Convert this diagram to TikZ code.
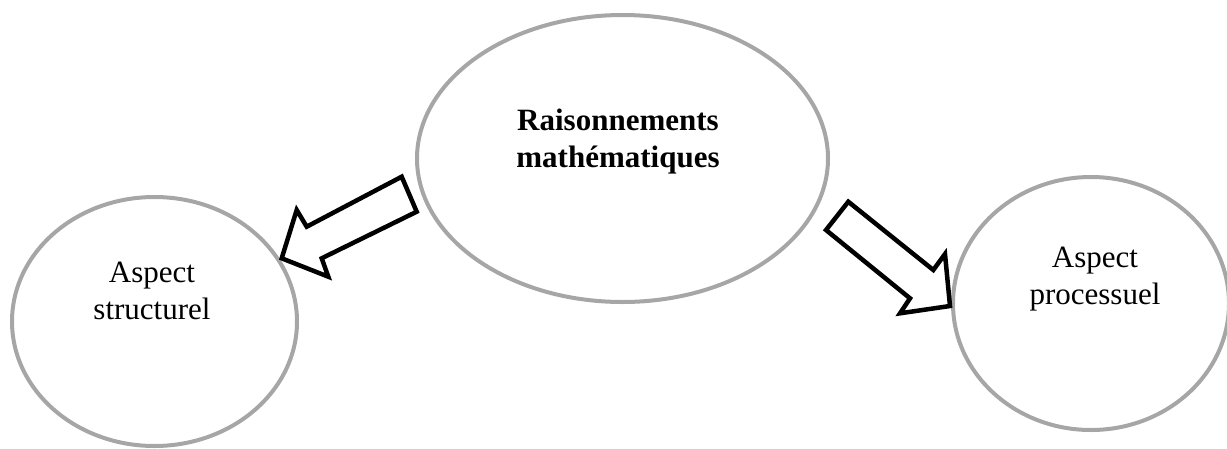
\documentclass[tikz,border=0pt]{standalone}
\usepackage{fontspec}
\setmainfont{Liberation Serif}
\usetikzlibrary{shapes.geometric}
\definecolor{rimgray}{RGB}{166,166,166}
\tikzset{
  bubble/.style={ellipse, draw=rimgray, line width=4pt, inner sep=0pt},
  label31/.style={align=center, inner sep=0pt, font=\fontsize{31}{37}\selectfont},
  blockarrow/.style={draw=black, fill=white, line width=4.5pt, line join=miter, miter limit=10}
}
\begin{document}
\begin{tikzpicture}[x=1pt,y=-1pt]
\useasboundingbox (0,0) rectangle (1227,448);
% ellipses
\node[bubble, minimum width=411pt, minimum height=287pt] (centre) at (622.5,158.5) {};
\node[bubble, minimum width=285pt, minimum height=249pt] (gauche) at (154.5,321.5) {};
\node[bubble, minimum width=276pt, minimum height=253pt] (droite) at (1091,303.5) {};
% texts
\node[label31, font=\bfseries\fontsize{31}{37}\selectfont] (tcentre) at (618,141.5) {Raisonnements\\mathématiques};
\node[label31] (tgauche) at (152,291) {Aspect\\structurel};
\node[label31] (tdroite) at (1095,279) {Aspect\\processuel};
% block arrows
\draw[blockarrow] (401.7,176.7) -- (416.7,211.7) -- (321.7,258.3) -- (328.3,276.7)
  -- (281.7,258.3) -- (296.7,210) -- (306.7,226.7) -- cycle;
\draw[blockarrow] (848.3,201.7) -- (826,230) -- (910,298.3) -- (900,313.3)
  -- (950,306) -- (945,254) -- (933.3,270) -- cycle;
\end{tikzpicture}
\end{document}
